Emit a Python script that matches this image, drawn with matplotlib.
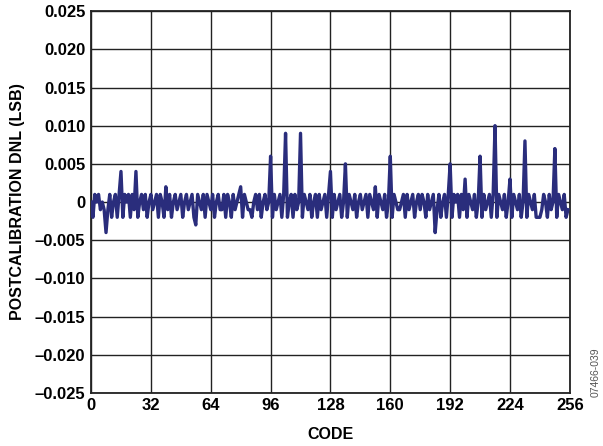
import matplotlib
matplotlib.use("Agg")
import matplotlib.pyplot as plt
from matplotlib.ticker import FixedLocator

# DNL values in thousandths of an LSB, codes 0..255
dnl_milli = [
    0, -2, 1, 0, 1, -1, 0, -1, -4, -1, 1, -2, 0, 1, -2, 1,
    4, -2, 1, 0, 1, -2, 1, -1, 4, -2, 0, 1, -1, 1, -2, 0,
    1, -1, 0, 1, -2, 1, 0, -2, 2, -1, 1, -2, 0, 1, -1, 0,
    1, -2, 0, 1, -1, 0, 1, -2, -3, 1, 0, -1, 1, -2, 1, 0,
    -1, 1, -2, 0, 1, -1, -1, 1, -2, 1, 0, -2, 1, -1, 0, 1,
    2, -2, 1, 0, -1, -1, -2, 0, 1, -1, 1, -2, 0, 1, -1, 0,
    6, -2, 1, -1, 0, 1, -2, 1, 9, -2, 0, 1, -2, 1, -1, 0,
    9, -2, 1, 0, -1, 1, -2, 0, 1, -2, 1, -1, 0, 1, -2, 1,
    4, -2, 1, -1, 0, 1, -2, 0, 5, -2, 1, 0, -1, 1, -2, 0,
    1, -1, 0, 1, -2, 1, 0, -1, 2, -2, 1, 0, -1, 1, -2, 0,
    6, -2, 1, 0, -1, -1, 0, 1, -2, 1, -1, 0, 1, -2, 0, 1,
    -1, 1, 0, -2, 1, -1, 0, 1, -4, -1, 1, -2, 0, 1, -2, 1,
    5, -2, 1, 0, 1, -2, 1, -1, 3, -2, 1, 0, -1, 1, -2, 0,
    6, -2, 1, -1, 0, 1, -2, 1, 10, -2, 1, 0, -1, 1, -2, 0,
    3, -2, 1, 0, -1, 1, -2, 0, 8, -2, 1, 0, -1, 1, -2, -2,
    -2, -1, 1, 0, -2, 1, -1, 0, 7, -2, 1, 0, -1, 1, -2, -1,
]
codes = list(range(len(dnl_milli)))
dnl = [v / 1000.0 for v in dnl_milli]

x_ticks = [0, 32, 64, 96, 128, 160, 192, 224, 256]
y_ticks = [-0.025, -0.020, -0.015, -0.010, -0.005, 0, 0.005, 0.010, 0.015, 0.020, 0.025]
y_labels = ["\u20130.025", "\u20130.020", "\u20130.015", "\u20130.010", "\u20130.005", "0",
            "0.005", "0.010", "0.015", "0.020", "0.025"]

plt.rcParams['font.family'] = ['Liberation Sans', 'DejaVu Sans']

fig = plt.figure(figsize=(6.03, 4.46), dpi=100)
ax = fig.add_axes([0.151, 0.119, 0.794, 0.856])

ax.plot(codes, dnl, color="#2a2d7c", linewidth=2.4, solid_joinstyle="round", zorder=3)

ax.set_xlim(0, 256)
ax.set_ylim(-0.025, 0.025)
ax.xaxis.set_major_locator(FixedLocator(x_ticks))
ax.set_xticklabels([str(t) for t in x_ticks], fontsize=12, fontweight="bold")
ax.yaxis.set_major_locator(FixedLocator(y_ticks))
ax.set_yticklabels(y_labels, fontsize=12, fontweight="bold")
ax.tick_params(axis="x", length=0, pad=4)
ax.tick_params(axis="y", length=0, pad=4)

ax.grid(True, color="#222222", linewidth=1.0, zorder=1)
for s in ax.spines.values():
    s.set_linewidth(1.3)
    s.set_color("#222222")

ax.set_xlabel("CODE", fontsize=11.5, fontweight="bold")
ax.set_ylabel("POSTCALIBRATION DNL (LSB)", fontsize=11.5, fontweight="bold")
ax.xaxis.set_label_coords(0.5, -0.089)
ax.yaxis.set_label_coords(-0.138, 0.5)

fig.text(0.988, 0.11, "07466-039", rotation=90, fontsize=7.5, color="#555555",
         ha="center", va="bottom")

fig.savefig("out.png", dpi=100)
